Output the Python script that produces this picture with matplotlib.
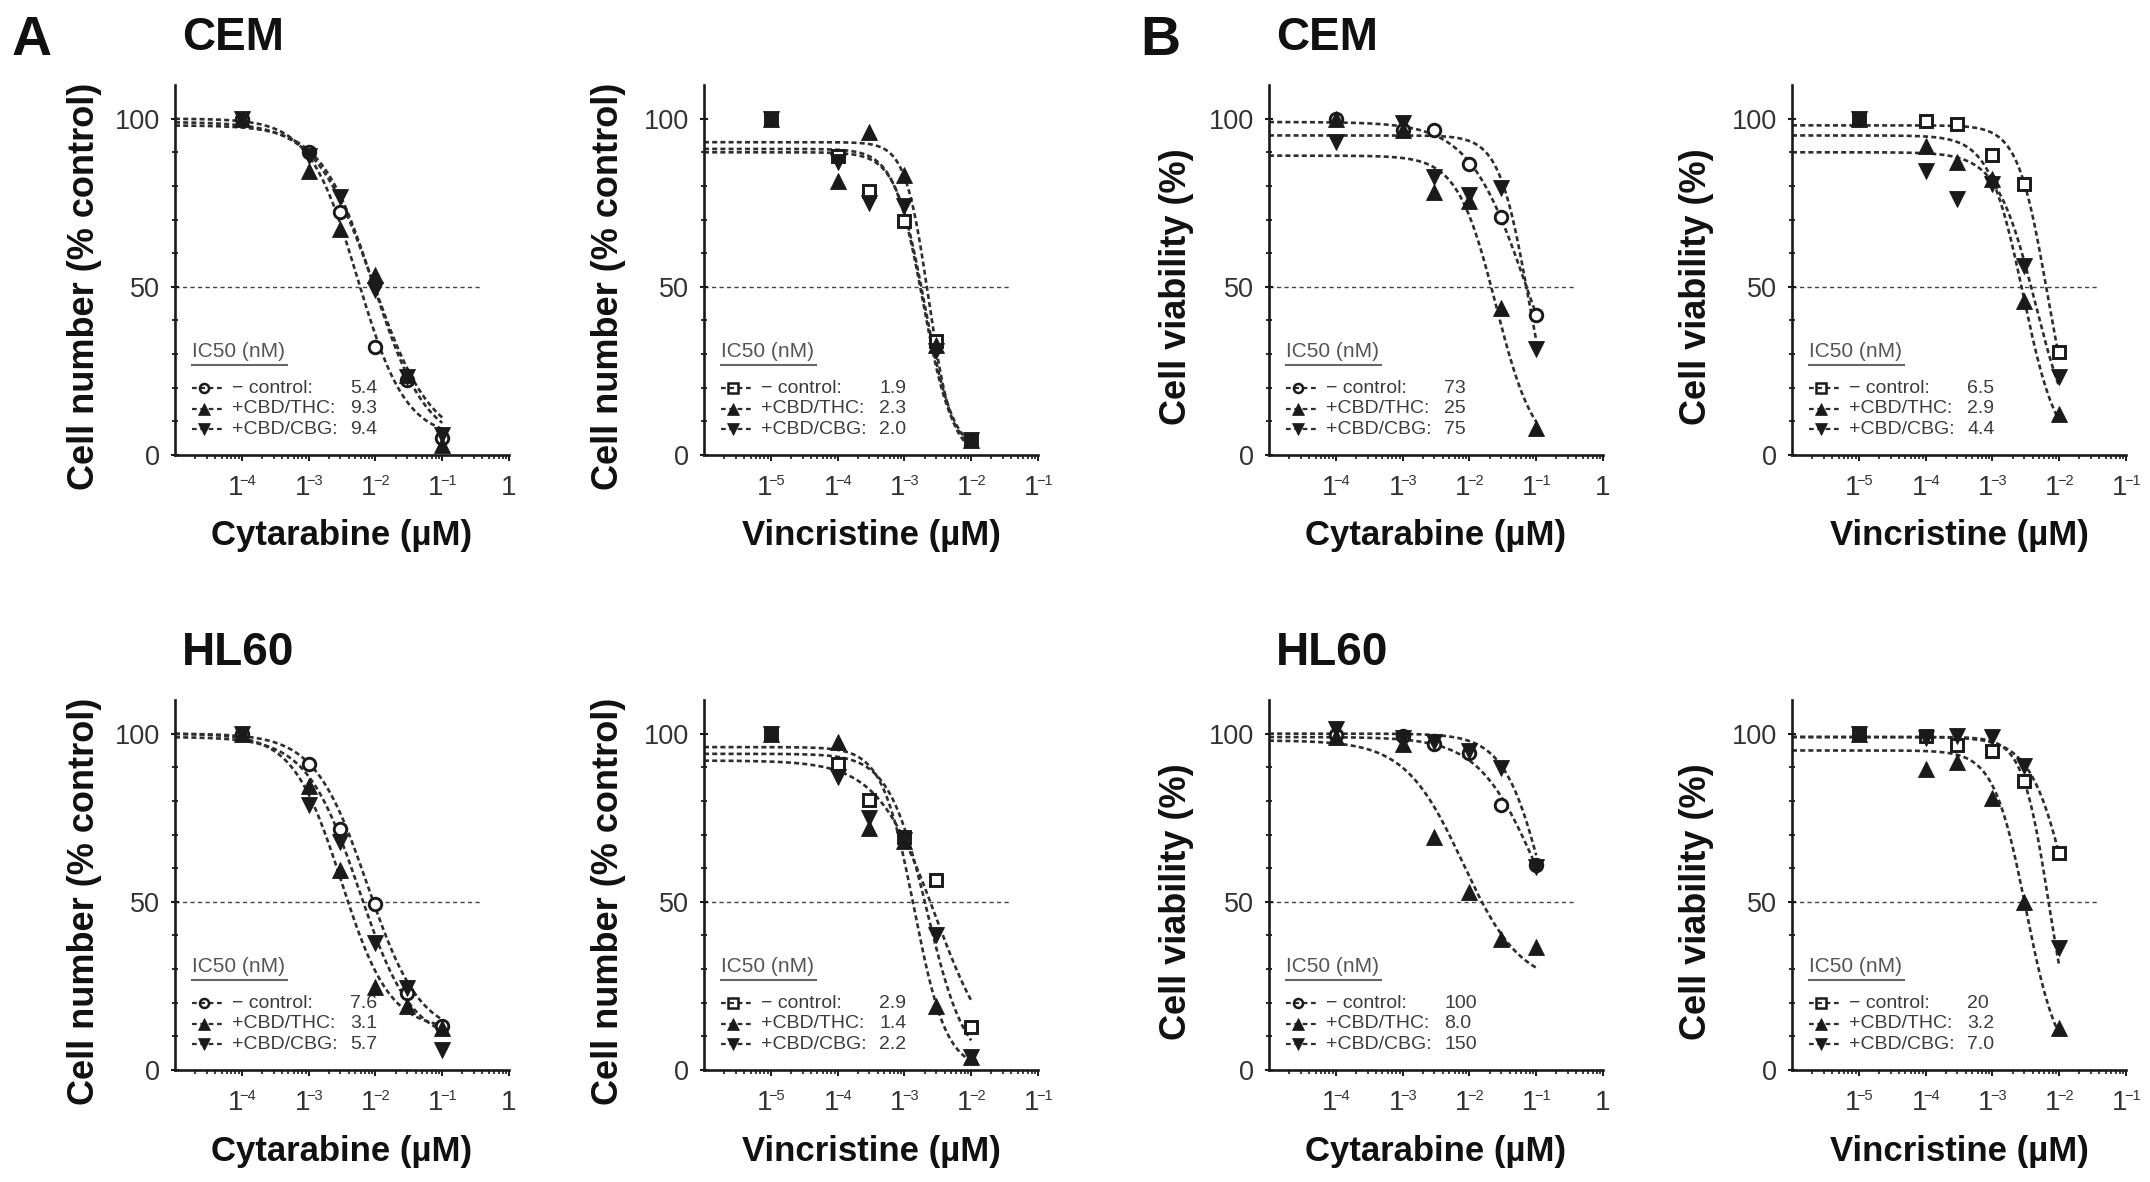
import numpy as np
import matplotlib
matplotlib.use("Agg")
import matplotlib.pyplot as plt
import matplotlib.transforms as mtransforms
from matplotlib.ticker import FixedLocator, LogLocator, NullFormatter

plt.rcParams['font.family'] = ['Liberation Sans', 'DejaVu Sans']
plt.rcParams['lines.scale_dashes'] = False

# ---------------------------------------------------------------- data
CYT_CONC = [1e-4, 1e-3, 3e-3, 1e-2, 3e-2, 1e-1]
VIN_CONC = [1e-5, 1e-4, 3e-4, 1e-3, 3e-3, 1e-2]

GROUP_LABELS = ["\u2212 control:", "+CBD/THC:", "+CBD/CBG:"]
LEGEND_TITLE = "IC50 (nM)"

CYT_TICKS = [1e-4, 1e-3, 1e-2, 1e-1, 1.0]
CYT_TICK_EXP = ["-4", "-3", "-2", "-1", ""]
VIN_TICKS = [1e-5, 1e-4, 1e-3, 1e-2, 1e-1]
VIN_TICK_EXP = ["-5", "-4", "-3", "-2", "-1"]

CYT_XLIM = [1e-5, 1.0]
VIN_XLIM = [1e-6, 1e-1]

# (A) CEM, cytarabine - cell number (% control)
A_CEM_CYT_CTRL = [100, 90.0, 72.3, 32.1, 22.2, 5.0]
A_CEM_CYT_THC = [100, 84.4, 67.3, 53.6, 23.9, 3.0]
A_CEM_CYT_CBG = [100, 89.0, 76.7, 49.2, 23.3, 5.9]
A_CEM_CYT_FIT = [(100, 5, 5.4e-3, 1.2), (99, 3, 9.3e-3, 1.0), (98, 3, 9.4e-3, 1.1)]
A_CEM_CYT_IC50 = ["5.4", "9.3", "9.4"]

# (A) CEM, vincristine
A_CEM_VIN_CTRL = [100, 88.8, 78.5, 69.7, 33.8, 4.6]
A_CEM_VIN_THC = [100, 81.6, 95.9, 83.3, 32.7, 4.6]
A_CEM_VIN_CBG = [100, 87.0, 75.0, 73.9, 31.0, 4.6]
A_CEM_VIN_FIT = [(91, 0, 1.9e-3, 2.0), (93, 0, 2.3e-3, 2.5), (90, 0, 2.0e-3, 2.0)]
A_CEM_VIN_IC50 = ["1.9", "2.3", "2.0"]

# (B) CEM, cytarabine - cell viability (%)
B_CEM_CYT_CTRL = [99.8, 96.5, 96.5, 86.4, 70.8, 41.7]
B_CEM_CYT_THC = [100, 96.5, 78.3, 75.6, 43.7, 7.9]
B_CEM_CYT_CBG = [93.2, 98.7, 82.7, 77.2, 79.4, 31.6]
B_CEM_CYT_FIT = [(99, 0, 0.073, 1.0), (89, 0, 0.025, 1.5), (95, 0, 0.075, 2.0)]
B_CEM_CYT_IC50 = ["73", "25", "75"]

# (B) CEM, vincristine
B_CEM_VIN_CTRL = [100, 99.2, 98.5, 89.3, 80.5, 30.5]
B_CEM_VIN_THC = [100, 92.0, 87.1, 82.0, 45.9, 12.3]
B_CEM_VIN_CBG = [100, 84.4, 76.1, 80.5, 56.3, 23.3]
B_CEM_VIN_FIT = [(98, 0, 6.5e-3, 2.0), (95, 0, 2.9e-3, 1.7), (90, 0, 4.4e-3, 1.5)]
B_CEM_VIN_IC50 = ["6.5", "2.9", "4.4"]

# (A) HL60, cytarabine
A_HL_CYT_CTRL = [100, 90.9, 71.6, 49.4, 23.0, 13.2]
A_HL_CYT_THC = [100, 84.3, 59.4, 24.6, 19.0, 12.4]
A_HL_CYT_CBG = [100, 78.8, 67.7, 37.8, 24.5, 5.8]
A_HL_CYT_FIT = [(100, 10, 7.6e-3, 1.1), (100, 12, 3.1e-3, 1.2), (99, 8, 5.7e-3, 1.1)]
A_HL_CYT_IC50 = ["7.6", "3.1", "5.7"]

# (A) HL60, vincristine
A_HL_VIN_CTRL = [100, 90.9, 80.4, 69.4, 56.4, 12.9]
A_HL_VIN_THC = [100, 97.6, 72.0, 68.0, 19.0, 3.8]
A_HL_VIN_CBG = [100, 87.0, 74.9, 68.5, 40.0, 3.8]
A_HL_VIN_FIT = [(92, 0, 2.9e-3, 1.0), (96, 0, 1.4e-3, 1.8), (94, 0, 2.2e-3, 1.5)]
A_HL_VIN_IC50 = ["2.9", "1.4", "2.2"]

# (B) HL60, cytarabine
B_HL_CYT_CTRL = [99.5, 99.2, 97.0, 94.2, 78.8, 61.0]
B_HL_CYT_THC = [99.0, 97.0, 69.4, 52.8, 38.9, 36.7]
B_HL_CYT_CBG = [101.4, 98.6, 97.5, 94.8, 89.8, 60.5]
B_HL_CYT_FIT = [(99, 22, 0.1, 1.0), (98, 25, 8e-3, 1.0), (100, 0, 0.15, 1.4)]
B_HL_CYT_IC50 = ["100", "8.0", "150"]

# (B) HL60, vincristine
B_HL_VIN_CTRL = [100, 99.2, 96.5, 94.8, 86.0, 64.4]
B_HL_VIN_THC = [100, 89.4, 91.5, 81.0, 50.0, 12.4]
B_HL_VIN_CBG = [100, 98.7, 99.2, 98.9, 90.4, 36.2]
B_HL_VIN_FIT = [(99, 0, 0.015, 1.5), (95, 0, 3.2e-3, 1.8), (99, 0, 7e-3, 2.2)]
B_HL_VIN_IC50 = ["20", "3.2", "7.0"]

YLAB_A = "Cell number (% control)"
YLAB_B = "Cell viability (%)"
XLAB_CYT = "Cytarabine (\u00b5M)"
XLAB_VIN = "Vincristine (\u00b5M)"

PANELS = [
    (0, 0, "cyt", YLAB_A, [A_CEM_CYT_CTRL, A_CEM_CYT_THC, A_CEM_CYT_CBG], A_CEM_CYT_FIT, A_CEM_CYT_IC50),
    (0, 1, "vin", YLAB_A, [A_CEM_VIN_CTRL, A_CEM_VIN_THC, A_CEM_VIN_CBG], A_CEM_VIN_FIT, A_CEM_VIN_IC50),
    (0, 2, "cyt", YLAB_B, [B_CEM_CYT_CTRL, B_CEM_CYT_THC, B_CEM_CYT_CBG], B_CEM_CYT_FIT, B_CEM_CYT_IC50),
    (0, 3, "vin", YLAB_B, [B_CEM_VIN_CTRL, B_CEM_VIN_THC, B_CEM_VIN_CBG], B_CEM_VIN_FIT, B_CEM_VIN_IC50),
    (1, 0, "cyt", YLAB_A, [A_HL_CYT_CTRL, A_HL_CYT_THC, A_HL_CYT_CBG], A_HL_CYT_FIT, A_HL_CYT_IC50),
    (1, 1, "vin", YLAB_A, [A_HL_VIN_CTRL, A_HL_VIN_THC, A_HL_VIN_CBG], A_HL_VIN_FIT, A_HL_VIN_IC50),
    (1, 2, "cyt", YLAB_B, [B_HL_CYT_CTRL, B_HL_CYT_THC, B_HL_CYT_CBG], B_HL_CYT_FIT, B_HL_CYT_IC50),
    (1, 3, "vin", YLAB_B, [B_HL_VIN_CTRL, B_HL_VIN_THC, B_HL_VIN_CBG], B_HL_VIN_FIT, B_HL_VIN_IC50),
]

ROW_TITLES = ["CEM", "HL60"]
SECTION_LETTERS = ["A", "B"]

# ---------------------------------------------------------------- layout (pixels)
FW, FH = 2150, 1182
COL_LEFT = [175, 704, 1269, 1792]
AX_W = 334
ROW_XAXIS = [455, 1070]
AX_H = 370
YLAB_OFF = [-90, -95, -92, -96]

INK = "#1a1a1a"
TXT = "#333333"
CURVE = "#2e2e2e"
LEG_TXT = "#3c3c3c"

fig = plt.figure(figsize=(FW / 100, FH / 100), dpi=100)
fig.patch.set_facecolor("white")


def logistic(x, top, bottom, mid, hill):
    return bottom + (top - bottom) / (1.0 + (x / mid) ** hill)


for row, col, drug, ylab, series, fits, ic50 in PANELS:
    left = COL_LEFT[col]
    bottom_px = ROW_XAXIS[row]
    ax = fig.add_axes([left / FW, (FH - bottom_px) / FH, AX_W / FW, AX_H / FH])
    ax.set_xscale("log")
    if drug == "cyt":
        conc, xlim, ticks, exps, ctrl_marker, xlab = CYT_CONC, CYT_XLIM, CYT_TICKS, CYT_TICK_EXP, "o", XLAB_CYT
    else:
        conc, xlim, ticks, exps, ctrl_marker, xlab = VIN_CONC, VIN_XLIM, VIN_TICKS, VIN_TICK_EXP, "s", XLAB_VIN
    ax.set_xlim(xlim)
    ax.set_ylim(0, 110)

    for s in ("top", "right"):
        ax.spines[s].set_visible(False)
    for s in ("left", "bottom"):
        ax.spines[s].set_linewidth(1.9)
        ax.spines[s].set_color(INK)

    # 50 % reference line
    x50 = np.logspace(np.log10(xlim[0]), np.log10(xlim[1]) - 0.425, 2)
    ax.plot(x50, [50, 50], color="#444444", lw=1.0, dashes=(3.0, 2.4), zorder=1.5)

    # fitted curves
    xs = np.logspace(np.log10(xlim[0]), np.log10(conc[-1]), 400)
    for (top, bot, mid, hill) in fits:
        ax.plot(xs, logistic(xs, top, bot, mid, hill), color=CURVE, lw=1.9,
                dashes=(3.6, 2.3), zorder=2)

    # data points
    markers = [ctrl_marker, "^", "v"]
    for k, vals in enumerate(series):
        if k == 0:
            ax.plot(conc, vals, linestyle="none", marker=ctrl_marker,
                    ms=9.0 if ctrl_marker == "o" else 8.6, mfc="white", mec=INK,
                    mew=2.1, zorder=3, clip_on=False)
        else:
            ax.plot(conc, vals, linestyle="none", marker=markers[k], ms=11.2,
                    mfc=INK, mec=INK, mew=0.6, zorder=4, clip_on=False)

    # ticks
    ax.yaxis.set_major_locator(FixedLocator([0, 50, 100]))
    ax.yaxis.set_minor_locator(FixedLocator([10, 20, 30, 40, 60, 70, 80, 90]))
    ax.set_yticklabels(["0", "50", "100"])
    ax.tick_params(axis="y", which="major", direction="inout", length=5.5, width=1.5,
                   labelsize=19.5, pad=8, labelcolor=TXT, color=INK)
    ax.tick_params(axis="y", which="minor", direction="inout", length=4, width=1.3, color=INK)
    ax.xaxis.set_major_locator(FixedLocator(ticks))
    ax.xaxis.set_minor_locator(LogLocator(base=10, subs=np.arange(2, 10), numticks=100))
    ax.xaxis.set_major_formatter(NullFormatter())
    ax.xaxis.set_minor_formatter(NullFormatter())
    ax.tick_params(axis="x", which="major", direction="out", length=4.5, width=1.4, color=INK)
    ax.tick_params(axis="x", which="minor", direction="out", length=3.0, width=1.2, color=INK)

    blend = mtransforms.blended_transform_factory(ax.transData, ax.transAxes)
    for v, e in zip(ticks, exps):
        if e:
            ax.annotate("1", xy=(v, 0), xycoords=blend, xytext=(-4.6, -28.8),
                        textcoords="offset points", ha="center", va="baseline",
                        fontsize=20, color=TXT, annotation_clip=False)
            ax.annotate(e.replace("-", "\u2212"), xy=(v, 0), xycoords=blend,
                        xytext=(-1.6, -21.6), textcoords="offset points", ha="left",
                        va="baseline", fontsize=10.5, color=TXT, annotation_clip=False)
        else:
            ax.annotate("1", xy=(v, 0), xycoords=blend, xytext=(0, -28.8),
                        textcoords="offset points", ha="center", va="baseline",
                        fontsize=20, color=TXT, annotation_clip=False)

    # axis labels
    ax.text(0.5, -81 / AX_H, xlab, transform=ax.transAxes, ha="center", va="center",
            fontsize=25, fontweight="bold", color="#111111")
    ax.text(YLAB_OFF[col] / AX_W, 50 / 110, ylab, transform=ax.transAxes, rotation=90,
            ha="center", va="center", fontsize=26, fontweight="bold", color="#111111")

    # IC50 legend
    ax.text(0.050, 0.281, LEGEND_TITLE, transform=ax.transAxes, ha="left", va="center",
            fontsize=15, color="#555555")
    ax.plot([0.050, 0.335], [0.243, 0.243], transform=ax.transAxes, color="#666666",
            lw=1.5, clip_on=False)
    rows_y = [0.181, 0.125, 0.070]
    for k in range(3):
        y = rows_y[k]
        ax.plot([0.051, 0.150], [y, y], transform=ax.transAxes, color=CURVE, lw=1.6,
                dashes=(3.4, 2.6), clip_on=False, zorder=5)
        if k == 0:
            ax.plot([0.088], [y], transform=ax.transAxes, linestyle="none",
                    marker=ctrl_marker, ms=6.5, mfc="none", mec=INK, mew=1.8,
                    clip_on=False, zorder=6)
        else:
            ax.plot([0.088], [y], transform=ax.transAxes, linestyle="none",
                    marker=markers[k], ms=8.5, mfc=INK, mec=INK, mew=0.5,
                    clip_on=False, zorder=6)
        ax.text(0.172, y, GROUP_LABELS[k], transform=ax.transAxes, ha="left",
                va="center", fontsize=14, color=LEG_TXT)
        ax.text(0.525, y, ic50[k], transform=ax.transAxes, ha="left",
                va="center", fontsize=14, color=LEG_TXT)

# titles
TITLE_BASE = [1 - 50 / FH, 1 - 665 / FH]
for r in range(2):
    for c in (0, 2):
        fig.text((COL_LEFT[c] + 7) / FW, TITLE_BASE[r], ROW_TITLES[r], ha="left",
                 va="baseline", fontsize=33, fontweight="bold", color="#111111")
fig.text(12 / FW, 1 - 55 / FH, SECTION_LETTERS[0], ha="left", va="baseline",
         fontsize=40, fontweight="bold", color="#111111")
fig.text(1140 / FW, 1 - 55 / FH, SECTION_LETTERS[1], ha="left", va="baseline",
         fontsize=40, fontweight="bold", color="#111111")

fig.savefig("out.png", dpi=100, facecolor="white")
